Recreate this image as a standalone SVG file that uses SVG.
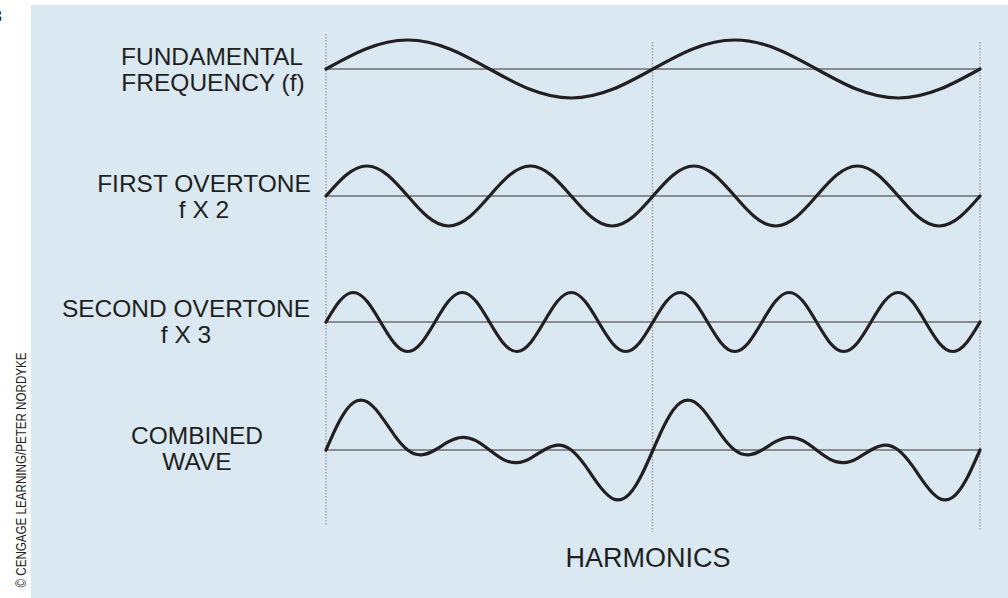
<svg xmlns="http://www.w3.org/2000/svg" width="1008" height="598" viewBox="0 0 1008 598">
<style>
.lbl{font-family:"Liberation Sans",Arial,Helvetica,sans-serif;font-size:24.5px;fill:#231f20;text-anchor:middle}
.wave{fill:none;stroke:#231f20;stroke-width:3.2;stroke-linecap:round;stroke-linejoin:round}
.axis{stroke:#6d6e71;stroke-width:1.6}
.dot{stroke:#9a9c9e;stroke-width:1.3;stroke-dasharray:1.5 1.5}
</style>
<rect x="0" y="0" width="1008" height="598" fill="#ffffff"/>
<rect id="panel" x="31" y="5" width="977" height="593" fill="#d9e8f1"/>
<text x="-7.5" y="22" font-family="Liberation Sans, Arial, sans-serif" font-size="17" fill="#231f20">3</text>
<text transform="translate(25.5,470) rotate(-90)" font-family="Liberation Sans, Arial, sans-serif" font-size="15.5" fill="#231f20" text-anchor="middle" textLength="235" lengthAdjust="spacingAndGlyphs">© CENGAGE LEARNING/PETER NORDYKE</text>
<g id="guides">
<line class="dot" x1="326" y1="34" x2="326" y2="525"/>
<line class="dot" x1="652.5" y1="42" x2="652.5" y2="532"/>
<line class="dot" x1="980" y1="42" x2="980" y2="530"/>
</g>
<g id="axes">
<line class="axis" x1="326" y1="69" x2="980" y2="69"/>
<line class="axis" x1="326" y1="196" x2="980" y2="196"/>
<line class="axis" x1="326" y1="322" x2="980" y2="322"/>
<line class="axis" x1="326" y1="450" x2="980" y2="450"/>
</g>
<g id="fundamental">
<text class="lbl" x="212" y="65">FUNDAMENTAL</text>
<text class="lbl" x="213" y="91">FREQUENCY (f)</text>
<path class="wave" d="M326 69 c26.66 -14.86 52.16 -29 81.75 -29 s55.09 14.14 81.75 29 s52.16 29 81.75 29 s55.09 -14.14 81.75 -29 s52.16 -29 81.75 -29 s55.09 14.14 81.75 29 s52.16 29 81.75 29 s55.09 -14.14 81.75 -29"/>
</g>
<g id="first-overtone">
<text class="lbl" x="204" y="192">FIRST OVERTONE</text>
<text class="lbl" x="204" y="218">f X 2</text>
<path class="wave" d="M326 196 c13.33 -15.37 26.08 -30 40.875 -30 s27.55 14.63 40.875 30 s26.08 30 40.875 30 s27.55 -14.63 40.875 -30
s26.08 -30 40.875 -30 s27.55 14.63 40.875 30 s26.08 30 40.875 30 s27.55 -14.63 40.875 -30
s26.08 -30 40.875 -30 s27.55 14.63 40.875 30 s26.08 30 40.875 30 s27.55 -14.63 40.875 -30
s26.08 -30 40.875 -30 s27.55 14.63 40.875 30 s26.08 30 40.875 30 s27.55 -14.63 40.875 -30"/>
</g>
<g id="second-overtone">
<text class="lbl" x="186" y="317">SECOND OVERTONE</text>
<text class="lbl" x="186" y="343">f X 3</text>
<path class="wave" d="M326 322 c8.89 -15.11 17.39 -29.5 27.25 -29.5 s18.36 14.39 27.25 29.5 s17.39 29.5 27.25 29.5 s18.36 -14.39 27.25 -29.5
s17.39 -29.5 27.25 -29.5 s18.36 14.39 27.25 29.5 s17.39 29.5 27.25 29.5 s18.36 -14.39 27.25 -29.5
s17.39 -29.5 27.25 -29.5 s18.36 14.39 27.25 29.5 s17.39 29.5 27.25 29.5 s18.36 -14.39 27.25 -29.5
s17.39 -29.5 27.25 -29.5 s18.36 14.39 27.25 29.5 s17.39 29.5 27.25 29.5 s18.36 -14.39 27.25 -29.5
s17.39 -29.5 27.25 -29.5 s18.36 14.39 27.25 29.5 s17.39 29.5 27.25 29.5 s18.36 -14.39 27.25 -29.5
s17.39 -29.5 27.25 -29.5 s18.36 14.39 27.25 29.5 s17.39 29.5 27.25 29.5 s18.36 -14.39 27.25 -29.5"/>
</g>
<defs>
<path id="combo" d="M326 450 C330.542 439.528 335.083 429.093 339.625 420.682 S348.708 405.937 353.25 402.68 S362.333 399.248 366.875 401.716 S375.958 409.249 380.5 415.358 S389.583 428.55 394.125 434.824 S403.208 446.509 407.75 450 S416.833 455.052 421.375 454.824 S430.458 452.618 435 450 S444.083 444.184 448.625 441.716 S457.708 437.554 462.25 437.32 S471.333 438.317 475.875 440.682 S484.958 446.509 489.5 450 S498.583 456.953 503.125 459.318 S512.208 462.914 516.75 462.68 S525.833 460.752 530.375 458.284 S539.458 452.618 544 450 S553.083 445.404 557.625 445.176 S566.708 446.509 571.25 450 S580.333 458.902 584.875 465.176 S593.958 478.533 598.5 484.642 S607.583 495.816 612.125 498.284 S621.208 500.577 625.75 497.32 S634.833 487.729 639.375 479.318 S648.458 460.472 653 450"/>
</defs>
<g id="combined-wave">
<text class="lbl" x="197" y="444">COMBINED</text>
<text class="lbl" x="197" y="470">WAVE</text>
<use href="#combo" class="wave"/>
<use href="#combo" class="wave" transform="translate(327,0)"/>
</g>
<text id="title" x="648" y="567" font-family="Liberation Sans, Arial, sans-serif" font-size="27" fill="#231f20" text-anchor="middle">HARMONICS</text>
</svg>
